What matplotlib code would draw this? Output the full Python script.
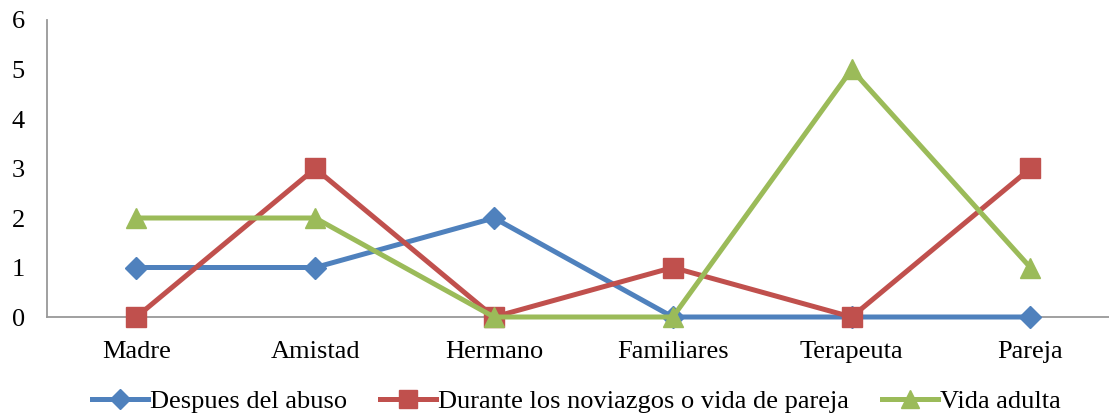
import matplotlib
matplotlib.use("Agg")
import matplotlib.pyplot as plt
from matplotlib.lines import Line2D

categories = ["Madre", "Amistad", "Hermano", "Familiares", "Terapeuta", "Pareja"]
despues_abuso = [1, 1, 2, 0, 0, 0]
durante_noviazgos = [0, 3, 0, 1, 0, 3]
vida_adulta = [2, 2, 0, 0, 5, 1]
series_names = ["Despues del abuso", "Durante los noviazgos o vida de pareja", "Vida adulta"]
yticks = [0, 1, 2, 3, 4, 5, 6]

plt.rcParams["font.family"] = ["Liberation Serif", "DejaVu Serif"]
W, H = 1109, 415
fig = plt.figure(figsize=(W / 100, H / 100), dpi=100)
ax = fig.add_axes([47 / W, 1 - 317 / H, (W - 47) / W, (317 - 20) / H])

styles = [
    dict(color="#4F81BD", marker="D", ms=11),
    dict(color="#C0504D", marker="s", ms=14),
    dict(color="#9BBB59", marker="^", ms=15),
]
x = list(range(len(categories)))
for vals, st in zip([despues_abuso, durante_noviazgos, vida_adulta], styles):
    ax.plot(x, vals, color=st["color"], lw=3.6, marker=st["marker"],
            ms=st["ms"], mec=st["color"], mfc=st["color"], clip_on=False, zorder=3)

ax.set_ylim(0, 6)
ax.set_xlim(-0.5, (W - 47) / 178.8 - 0.5)
ax.set_yticks(yticks)
ax.set_xticks(x)
ax.set_xticklabels(categories)
ax.tick_params(axis="both", length=0, labelsize=19)
ax.tick_params(axis="y", pad=16)
ax.tick_params(axis="x", pad=17)
for s in ["top", "right"]:
    ax.spines[s].set_visible(False)
for s in ["left", "bottom"]:
    ax.spines[s].set_color("#999999")
    ax.spines[s].set_linewidth(1.3)

handles = [Line2D([], [], color=st["color"], lw=3.6, marker=st["marker"], ms=st["ms"] * 0.9,
                  mec=st["color"], mfc=st["color"]) for st in styles]
fig.legend(handles, series_names, loc="center", bbox_to_anchor=(576 / W, 1 - 401 / H),
           ncol=3, frameon=False, fontsize=19, handlelength=2.15, handletextpad=0.05,
           columnspacing=1.25, borderpad=0)

fig.savefig("out.png", dpi=100)
